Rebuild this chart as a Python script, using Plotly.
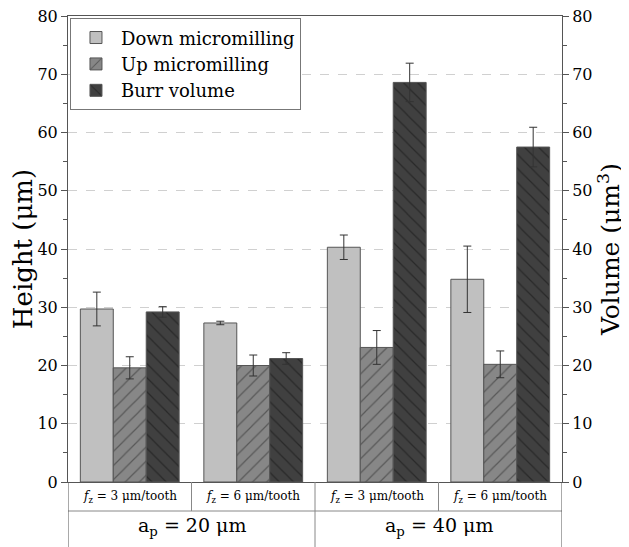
import plotly.graph_objects as go

# ---- data ----
groups = ["g1", "g2", "g3", "g4"]
fz_labels = ["<i>f</i><sub>z</sub> = 3 μm/tooth", "<i>f</i><sub>z</sub> = 6 μm/tooth",
             "<i>f</i><sub>z</sub> = 3 μm/tooth", "<i>f</i><sub>z</sub> = 6 μm/tooth"]
ap_labels = ["a<sub>p</sub> = 20 μm", "a<sub>p</sub> = 40 μm"]

down = [29.7, 27.3, 40.3, 34.8]
down_err = [2.9, 0.3, 2.1, 5.7]
up = [19.6, 20.0, 23.1, 20.2]
up_err = [1.9, 1.8, 2.9, 2.3]
burr = [29.2, 21.2, 68.6, 57.5]
burr_err = [0.9, 1.0, 3.3, 3.4]

FONT = "DejaVu Serif"
AX = "#555555"
OUT = "#555555"

fig = go.Figure()
err_style = dict(type="data", thickness=1, width=4, color="#333333")

fig.add_trace(go.Bar(
    name="Down micromilling", x=groups, y=down,
    error_y=dict(array=down_err, **err_style),
    marker=dict(color="#c0c0c0", line=dict(color=OUT, width=1)),
    offsetgroup="a", yaxis="y"))
fig.add_trace(go.Bar(
    name="Up micromilling", x=groups, y=up,
    error_y=dict(array=up_err, **err_style),
    marker=dict(color="#878787", line=dict(color=OUT, width=1),
                pattern=dict(shape="/", fgcolor="#2a2a2a", bgcolor="#878787",
                             size=10, solidity=0.12)),
    offsetgroup="b", yaxis="y"))
fig.add_trace(go.Bar(
    name="Burr volume", x=groups, y=burr,
    error_y=dict(array=burr_err, **err_style),
    marker=dict(color="#404040", line=dict(color=OUT, width=1),
                pattern=dict(shape="\\", fgcolor="#111111", bgcolor="#404040",
                             size=10, solidity=0.12)),
    offsetgroup="c", yaxis="y2"))

W, H = 629, 547
OFF = 8  # page body margin
ml, mr, mt, mb = 68 - OFF, 67 + OFF, 16 - OFF, 65 + OFF
ph = H - mt - mb

def py(pix):  # page pixel y (from top) -> paper y
    return (H - mb - (pix - OFF)) / ph

row1_bottom = py(511)
bottom = py(547)

shapes = []
n = len(groups)
shapes.append(dict(type="line", xref="x", yref="paper", x0=-0.5, x1=n - 0.5,
                   y0=row1_bottom, y1=row1_bottom, line=dict(color="#888888", width=1)))
for xv in [-0.5, n - 0.5]:
    shapes.append(dict(type="line", xref="x", yref="paper", x0=xv, x1=xv,
                       y0=0, y1=bottom, line=dict(color=AX, width=1)))
for i in range(n - 1):
    xv = i + 0.5
    y1 = bottom if (i + 1) % 2 == 0 else row1_bottom
    shapes.append(dict(type="line", xref="x", yref="paper", x0=xv, x1=xv,
                       y0=0, y1=y1, line=dict(color="#888888", width=1)))

annotations = []
for i, lab in enumerate(fz_labels):
    annotations.append(dict(x=i, y=(0 + row1_bottom) / 2, xref="x", yref="paper",
                            text=lab, showarrow=False, yanchor="middle",
                            font=dict(family=FONT, size=12, color="black")))
for j, lab in enumerate(ap_labels):
    annotations.append(dict(x=2 * j + 0.5, y=(row1_bottom + bottom) / 2 + 0.005,
                            xref="x", yref="paper", text=lab, showarrow=False,
                            yanchor="middle",
                            font=dict(family=FONT, size=19, color="black")))

yax_common = dict(range=[0, 80], dtick=10, ticks="outside", ticklen=6, tickwidth=1,
                  tickcolor=AX, showline=True, linecolor=AX, linewidth=1,
                  tickfont=dict(family=FONT, size=16, color="black"),
                  ticklabeloverflow="allow",
                  minor=dict(dtick=5, ticks="outside", ticklen=4, tickcolor=AX, showgrid=False),
                  zeroline=False, automargin=False)

fig.update_layout(
    width=W, height=H,
    margin=dict(l=ml, r=mr, t=mt, b=mb, autoexpand=False),
    paper_bgcolor="white", plot_bgcolor="white",
    barmode="group", bargap=0.2, bargroupgap=0,
    font=dict(family=FONT, color="black"),
    xaxis=dict(range=[-0.5, n - 0.5], showticklabels=False, ticks="",
               showline=True, linecolor=AX, linewidth=1, mirror=True, showgrid=False,
               automargin=False),
    yaxis=dict(**yax_common, showgrid=True, gridcolor="#d0d0d0", griddash="dash",
               title=dict(text="Height (μm)", font=dict(family=FONT, size=26, color="black"),
                          standoff=6)),
    yaxis2=dict(**yax_common, overlaying="y", side="right", showgrid=False,
                title=dict(text="Volume (μm<sup>3</sup>)",
                           font=dict(family=FONT, size=25, color="black"), standoff=8)),
    legend=dict(x=0.004, y=0.995, xanchor="left", yanchor="top",
                bgcolor="white", bordercolor="#777777", borderwidth=1,
                font=dict(family=FONT, size=18, color="black"),
                tracegroupgap=0, itemwidth=40),
    shapes=shapes, annotations=annotations,
)

fig.write_html("out.html")
